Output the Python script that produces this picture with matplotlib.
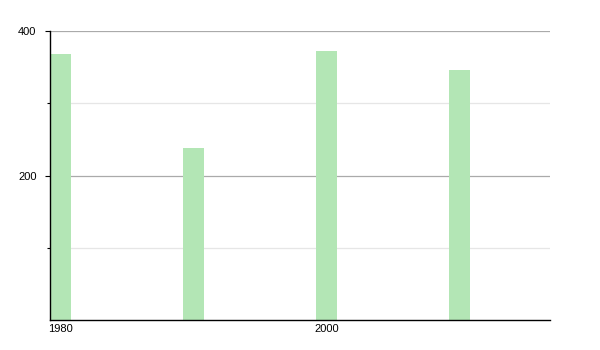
import matplotlib
matplotlib.use("Agg")
import matplotlib.pyplot as plt
from matplotlib.ticker import FixedLocator

years = [1980, 1990, 2000, 2010]
values = [368, 238, 372, 346]
xtick_years = [1980, 2000]
xtick_labels = ["1980", "2000"]
ytick_major = [200, 400]
ytick_minor = [100, 300]

plt.rcParams['font.family'] = ['Liberation Sans', 'DejaVu Sans']

fig = plt.figure(figsize=(6, 3.5), dpi=100)
ax = fig.add_axes([50/600, 30/350, 500/600, 289/350])

bw = 1.58
ax.bar(years, values, width=bw, color='#b3e6b5', zorder=2)

ax.set_xlim(1980 - bw/2, 1980 - bw/2 + 500/13.3)
ax.set_ylim(0, 400)

ax.yaxis.set_major_locator(FixedLocator(ytick_major))
ax.yaxis.set_minor_locator(FixedLocator(ytick_minor))
ax.set_yticklabels([str(v) for v in ytick_major])
ax.grid(axis='y', which='major', color='#aaaaaa', linewidth=0.9, zorder=0)
ax.grid(axis='y', which='minor', color='#e6e6e6', linewidth=0.9, zorder=0)

ax.set_xticks(xtick_years)
ax.set_xticklabels(xtick_labels)
ax.tick_params(axis='x', length=0, pad=3, labelsize=8)
ax.tick_params(axis='y', which='major', length=3.75, width=0.8, direction='out', labelsize=8, pad=6)
ax.tick_params(axis='y', which='minor', length=2.2, width=0.8, direction='out')

for s in ['top', 'right']:
    ax.spines[s].set_visible(False)
ax.spines['left'].set_linewidth(1)
ax.spines['bottom'].set_linewidth(1)
ax.set_axisbelow(True)

fig.savefig("out.png", dpi=100)
